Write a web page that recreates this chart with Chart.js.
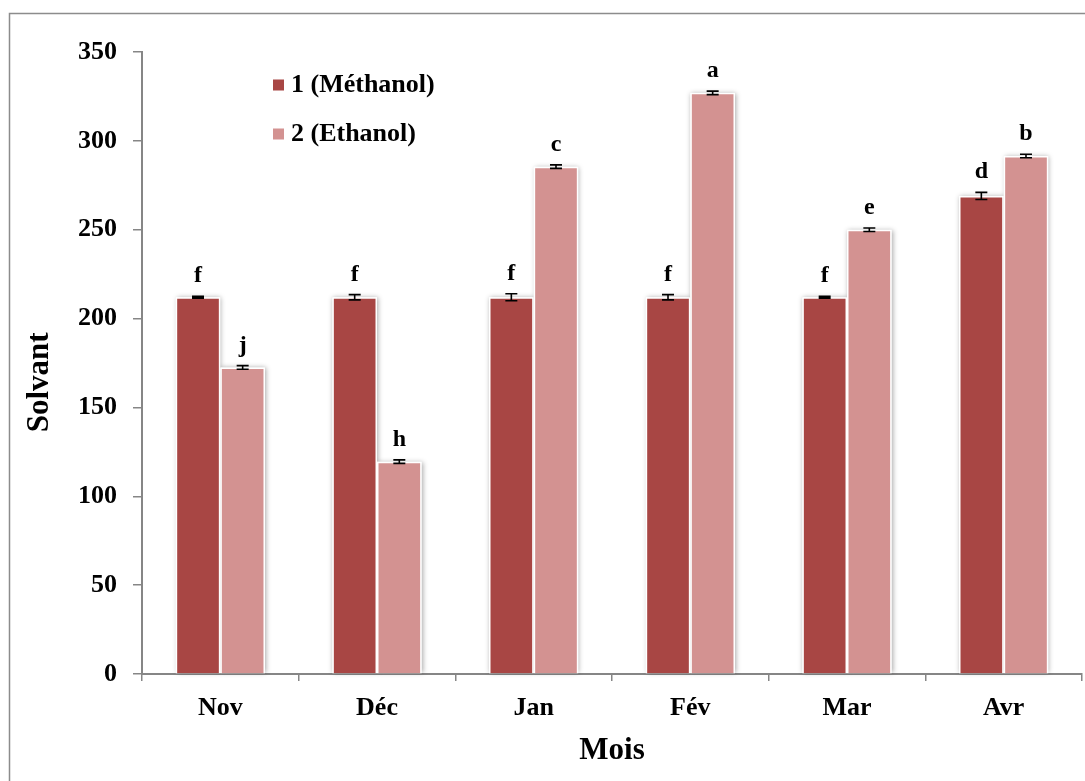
<!DOCTYPE html>
<html>
<head>
<meta charset="utf-8">
<script src="https://cdn.jsdelivr.net/npm/chart.js@4/dist/chart.umd.min.js"></script>
<style>
  html, body { margin: 0; padding: 0; background: #fff; }
  #wrap { width: 1085px; height: 781px; position: relative; }
</style>
</head>
<body>
<div id="wrap"><canvas id="c" width="1085" height="781"></canvas></div>
<script>
// Monthly solvent values per extraction solvent, with standard errors and significance letters
const months = ['Nov', 'Déc', 'Jan', 'Fév', 'Mar', 'Avr'];
const methanol = [212, 212, 212, 212, 212, 269];
const ethanol = [172.5, 119.5, 285.5, 327, 250, 291.5];
const methanolErr = [0.5, 1.5, 2, 1.5, 0.5, 2];
const ethanolErr = [1, 1, 1, 1, 1, 1];
const methanolLetters = ['f', 'f', 'f', 'f', 'f', 'd'];
const ethanolLetters = ['j', 'h', 'c', 'a', 'e', 'b'];
const yTicks = [0, 50, 100, 150, 200, 250, 300, 350];

const FONT = '"Liberation Serif", "Times New Roman", serif';
const AXIS_GREY = '#868686';

// Outer frame around the figure
const framePlugin = {
  id: 'frame',
  beforeDraw(chart) {
    const ctx = chart.ctx;
    ctx.save();
    ctx.fillStyle = '#fff';
    ctx.fillRect(0, 0, chart.width, chart.height);
    ctx.strokeStyle = '#8c8c8c';
    ctx.lineWidth = 1.5;
    ctx.strokeRect(9.5, 13.5, chart.width + 20, chart.height + 20);
    ctx.restore();
  }
};

// Soft shadow under each bar
const barShadow = {
  id: 'barShadow',
  beforeDatasetsDraw(chart) {
    const ctx = chart.ctx;
    ctx.save();
    ctx.shadowColor = 'rgba(0,0,0,0.35)';
    ctx.shadowBlur = 5;
    ctx.shadowOffsetX = 1;
    ctx.fillStyle = '#fff';
    chart.data.datasets.forEach((ds, i) => {
      chart.getDatasetMeta(i).data.forEach(bar => {
        const p = bar.getProps(['x', 'y', 'base', 'width'], true);
        ctx.fillRect(p.x - p.width / 2, p.y, p.width, p.base - p.y);
      });
    });
    ctx.restore();
  }
};

// Error bars and significance letters above each bar
const errorBars = {
  id: 'errorBars',
  afterDatasetsDraw(chart) {
    const ctx = chart.ctx;
    const y = chart.scales.y;
    ctx.save();
    chart.data.datasets.forEach((ds, i) => {
      chart.getDatasetMeta(i).data.forEach((bar, j) => {
        const v = ds.data[j];
        const e = ds.errors[j];
        const x = bar.x;
        const top = y.getPixelForValue(v + e);
        const bot = y.getPixelForValue(v - e);
        ctx.strokeStyle = '#000';
        ctx.lineWidth = 1.6;
        ctx.beginPath();
        ctx.moveTo(x, top); ctx.lineTo(x, bot);
        ctx.moveTo(x - 6, top); ctx.lineTo(x + 6, top);
        ctx.moveTo(x - 6, bot); ctx.lineTo(x + 6, bot);
        ctx.stroke();
        ctx.fillStyle = '#000';
        ctx.font = 'bold 24px ' + FONT;
        ctx.textAlign = 'center';
        ctx.textBaseline = 'alphabetic';
        ctx.fillText(ds.letters[j], x, top - 14);
      });
    });
    ctx.restore();
  }
};

// Legend inside the plot area
const innerLegend = {
  id: 'innerLegend',
  afterDraw(chart) {
    const ctx = chart.ctx;
    const x0 = 273, y0 = 85, step = 49;
    ctx.save();
    chart.data.datasets.forEach((ds, i) => {
      const yc = y0 + i * step;
      ctx.fillStyle = ds.backgroundColor;
      ctx.fillRect(x0, yc - 5.5, 11, 11);
      ctx.fillStyle = '#000';
      ctx.font = 'bold 26px ' + FONT;
      ctx.textAlign = 'left';
      ctx.textBaseline = 'middle';
      ctx.fillText(ds.label, x0 + 18, yc);
    });
    ctx.restore();
  }
};

new Chart(document.getElementById('c'), {
  type: 'bar',
  data: {
    labels: months,
    datasets: [
      { label: '1 (Méthanol)', data: methanol, errors: methanolErr, letters: methanolLetters,
        backgroundColor: '#A84644', borderColor: '#ffffff', borderWidth: 1.5,
        categoryPercentage: 0.57, barPercentage: 1.0 },
      { label: '2 (Ethanol)', data: ethanol, errors: ethanolErr, letters: ethanolLetters,
        backgroundColor: '#D39291', borderColor: '#ffffff', borderWidth: 1.5,
        categoryPercentage: 0.57, barPercentage: 1.0 }
    ]
  },
  options: {
    responsive: false,
    animation: false,
    devicePixelRatio: 1,
    layout: { padding: { left: 0, right: 3, top: 52, bottom: 0 } },
    plugins: {
      legend: { display: false },
      tooltip: { enabled: false }
    },
    scales: {
      x: {
        grid: { display: true, drawOnChartArea: false, drawTicks: true, tickLength: 7,
                color: AXIS_GREY, lineWidth: 1.5, offset: true },
        border: { display: true, color: AXIS_GREY, width: 2 },
        ticks: { color: '#000', padding: 12, font: { family: FONT, size: 26, weight: 'bold' } },
        title: { display: true, text: 'Mois', color: '#000',
                 font: { family: FONT, size: 31, weight: 'bold' }, padding: { top: 0, bottom: 11 } },
        afterFit(scale) { scale.height = 107; }
      },
      y: {
        min: 0, max: 350,
        afterBuildTicks(scale) { scale.ticks = yTicks.map(v => ({ value: v })); },
        grid: { display: true, drawOnChartArea: false, drawTicks: true, tickLength: 9,
                color: AXIS_GREY, lineWidth: 1.5 },
        border: { display: true, color: AXIS_GREY, width: 2 },
        ticks: { color: '#000', padding: 16, font: { family: FONT, size: 26, weight: 'bold' } },
        // trailing spaces lower the rotated title slightly along the axis
        title: { display: true, text: 'Solvant\u00a0\u00a0\u00a0\u00a0\u00a0', color: '#000',
                 font: { family: FONT, size: 31, weight: 'bold' }, padding: { top: 21, bottom: 0 } },
        afterFit(scale) { scale.width = 142; }
      }
    }
  },
  plugins: [framePlugin, barShadow, errorBars, innerLegend]
});
</script>
</body>
</html>
